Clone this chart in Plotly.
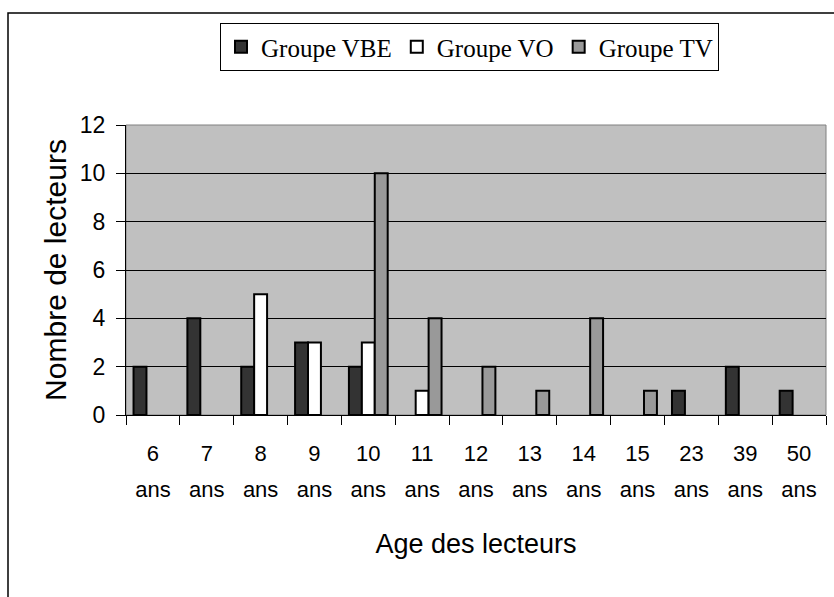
import plotly.graph_objects as go

categories = ["6", "7", "8", "9", "10", "11", "12", "13", "14", "15", "23", "39", "50"]
unit_label = "ans"
vbe = [2, 4, 2, 3, 2, 0, 0, 0, 0, 0, 1, 2, 1]
vo = [0, 0, 5, 3, 3, 1, 0, 0, 0, 0, 0, 0, 0]
tv = [0, 0, 0, 0, 10, 4, 2, 1, 4, 1, 0, 0, 0]
y_ticks = [0, 2, 4, 6, 8, 10, 12]

series = [("Groupe VBE", vbe, "#333333"), ("Groupe VO", vo, "#FFFFFF"), ("Groupe TV", tv, "#999999")]

fig = go.Figure()
for name, vals, col in series:
    fig.add_trace(go.Bar(x=categories, y=[v if v else None for v in vals], name=name,
                         marker=dict(color=col, line=dict(color="black", width=2))))

# invisible trace to carry the second row of tick labels ("ans")
fig.add_trace(go.Scatter(x=list(range(len(categories))), y=[0] * len(categories), xaxis="x2",
                         mode="markers", marker=dict(opacity=0), showlegend=False, hoverinfo="skip"))

W, H = 834, 597
L, R, T, B = 126, 8, 125, 182
pw, ph = W - L - R, H - T - B

def px(x):
    return (x - L) / pw

def py(y):
    return (H - B - y) / ph

fig.update_layout(
    width=W, height=H,
    margin=dict(l=L, r=R, t=T, b=B),
    paper_bgcolor="white", plot_bgcolor="#C0C0C0",
    barmode="group", bargap=0.28, bargroupgap=0,
    font=dict(family="Liberation Sans, Arial", color="black", size=18),
    showlegend=True,
    legend=dict(orientation="h", x=px(220), y=py(23), xanchor="left", yanchor="top",
                bordercolor="black", borderwidth=1, bgcolor="white",
                font=dict(family="Liberation Serif", size=25), itemwidth=30,
                tracegroupgap=0, traceorder="normal"),
    xaxis=dict(showline=True, linecolor="black", linewidth=1, ticks="outside", ticklen=9,
               tickcolor="black", tickson="boundaries", tickfont=dict(size=22),
               ticklabelstandoff=19),
    xaxis2=dict(overlaying="x", side="bottom", anchor="y", range=[-0.5, len(categories) - 0.5],
                tickvals=list(range(len(categories))), ticktext=[unit_label] * len(categories),
                showline=False, ticks="", showgrid=False, zeroline=False,
                tickfont=dict(size=22), ticklabelstandoff=59,
                title=dict(text="Age des lecteurs", font=dict(size=27), standoff=33)),
    yaxis=dict(range=[0, 12], tickvals=y_ticks, showline=True, linecolor="black", linewidth=1,
               ticks="outside", ticklen=9, tickcolor="black", showgrid=True, gridcolor="black",
               gridwidth=1, tickfont=dict(size=23), zeroline=False, ticklabelstandoff=6,
               title=dict(text="Nombre de lecteurs", font=dict(size=30), standoff=4)),
    shapes=[
        dict(type="rect", xref="paper", yref="paper", x0=px(8), x1=px(845), y0=py(13), y1=py(610),
             line=dict(color="black", width=1.5), fillcolor="rgba(0,0,0,0)", layer="below"),
        dict(type="rect", xref="paper", yref="paper", x0=0, x1=1, y0=0, y1=1,
             line=dict(color="#808080", width=1), fillcolor="rgba(0,0,0,0)", layer="below"),
    ],
)

fig.write_html("out.html", config={"displayModeBar": False},
               post_script="document.body.style.margin='0';document.body.style.overflow='hidden';")
